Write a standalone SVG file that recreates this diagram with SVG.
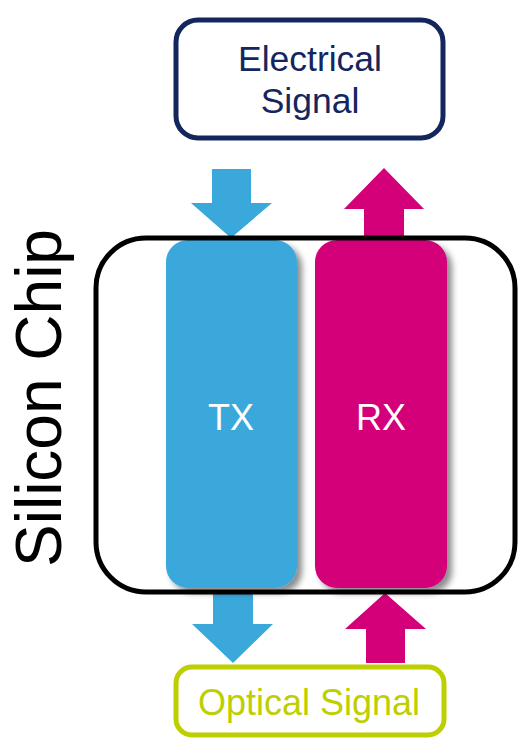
<svg xmlns="http://www.w3.org/2000/svg" width="520" height="738" viewBox="0 0 520 738">
<defs>
<filter id="sh" x="-20%" y="-10%" width="150%" height="130%">
<feDropShadow dx="5" dy="5" stdDeviation="3" flood-color="#000" flood-opacity="0.45"/>
</filter>
<style>
.lbl{font-family:"Liberation Sans",Arial,sans-serif;text-anchor:middle}
.tx{fill:#3aa8db}
.rx{fill:#d4007a}
</style>
</defs>
<rect width="520" height="738" fill="#fff"/>
<g id="connectors">
<polygon class="tx" points="212,169 251,169 251,203 272,203 231,238 191,203 212,203"/>
<polygon class="rx" points="384,168 424,209 404,209 404,238 364,238 364,209 344,209"/>
<polygon class="tx" points="213,590 253,590 253,624 273,624 233,663 192,624 213,624"/>
<polygon class="rx" points="385,593 426,629 405,629 405,663 366,663 366,629 345,629"/>
</g>
<g id="tx">
<rect class="tx" x="166" y="240" width="131" height="348" rx="22" filter="url(#sh)"/>
<text class="lbl" x="231" y="430" font-size="36" fill="#fff">TX</text>
</g>
<g id="rx">
<rect class="rx" x="315" y="240" width="132" height="348" rx="22" filter="url(#sh)"/>
<text class="lbl" x="381" y="430" font-size="36" fill="#fff">RX</text>
</g>
<g id="chip">
<rect x="96" y="238" width="419" height="354" rx="50" fill="none" stroke="#000" stroke-width="5"/>
<text class="lbl" x="61" y="398" font-size="64" fill="#000" transform="rotate(-90 61 398)">Silicon Chip</text>
</g>
<g id="electrical">
<rect x="176" y="20" width="267" height="118" rx="22" fill="#fff" stroke="#13265e" stroke-width="5"/>
<text class="lbl" x="310" y="71" font-size="35.5" fill="#13265e">Electrical</text>
<text class="lbl" x="310" y="113" font-size="35.5" fill="#13265e">Signal</text>
</g>
<g id="optical">
<rect x="176" y="667" width="268" height="68" rx="16" fill="#fff" stroke="#bdcf00" stroke-width="5"/>
<text class="lbl" x="309" y="715" font-size="36" fill="#bdcf00">Optical Signal</text>
</g>
</svg>
